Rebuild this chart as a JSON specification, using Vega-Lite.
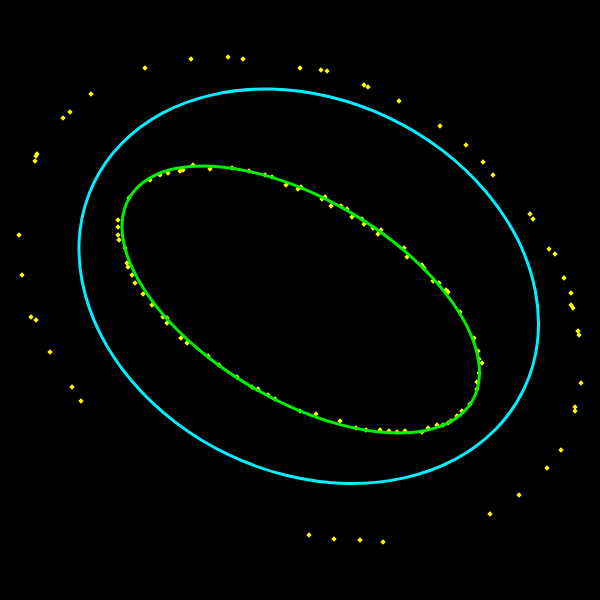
{
  "$schema": "https://vega.github.io/schema/vega-lite/v6.json",
  "width": 600,
  "height": 600,
  "autosize": "none",
  "padding": 0,
  "background": "#000000",
  "config": {"view": {"stroke": null}},
  "datasets": {
    "pts": [
      {"x":145,"y":68},{"x":191,"y":59},{"x":228,"y":57},{"x":243,"y":59},{"x":91,"y":94},{"x":70,"y":112},{"x":63,"y":118},{"x":37,"y":154},{"x":36,"y":156},{"x":35,"y":161},
      {"x":300,"y":68},{"x":321,"y":70},{"x":327,"y":71},{"x":364,"y":85},{"x":368,"y":87},{"x":399,"y":101},{"x":440,"y":126},{"x":466,"y":145},{"x":483,"y":162},{"x":493,"y":175},
      {"x":19,"y":235},{"x":22,"y":275},{"x":31,"y":317},{"x":36,"y":320},{"x":50,"y":352},{"x":72,"y":387},{"x":81,"y":401},
      {"x":530,"y":214},{"x":533,"y":219},{"x":549,"y":249},{"x":555,"y":254},{"x":564,"y":278},{"x":571,"y":293},{"x":571,"y":305},{"x":573,"y":308},{"x":578,"y":331},{"x":579,"y":335},{"x":581,"y":383},{"x":575,"y":407},{"x":575,"y":411},{"x":561,"y":450},{"x":547,"y":468},
      {"x":519,"y":495},{"x":490,"y":514},{"x":309,"y":535},{"x":334,"y":539},{"x":360,"y":540},{"x":383,"y":542},
      {"x":160,"y":175},{"x":168,"y":173},{"x":180,"y":171},{"x":183,"y":170},{"x":150,"y":180},{"x":210,"y":169},{"x":193,"y":165},{"x":129,"y":198},{"x":118,"y":220},{"x":118,"y":227},{"x":118,"y":235},{"x":119,"y":240},{"x":125,"y":248},{"x":127,"y":263},{"x":128,"y":267},{"x":132,"y":275},{"x":135,"y":283},{"x":143,"y":294},{"x":232,"y":168},
      {"x":249,"y":171},{"x":265,"y":175},{"x":272,"y":177},{"x":286,"y":185},{"x":298,"y":189},{"x":301,"y":187},{"x":322,"y":199},{"x":325,"y":197},{"x":331,"y":206},{"x":341,"y":206},{"x":347,"y":209},{"x":352,"y":217},{"x":362,"y":219},{"x":364,"y":224},{"x":373,"y":228},
      {"x":381,"y":230},{"x":378,"y":234},{"x":404,"y":248},{"x":407,"y":257},{"x":422,"y":265},{"x":424,"y":268},{"x":433,"y":281},{"x":439,"y":283},{"x":448,"y":292},{"x":446,"y":290},{"x":460,"y":312},{"x":474,"y":338},
      {"x":478,"y":351},{"x":479,"y":359},{"x":482,"y":363},{"x":479,"y":373},{"x":477,"y":382},{"x":477,"y":389},{"x":470,"y":404},{"x":462,"y":411},{"x":457,"y":416},{"x":451,"y":421},{"x":448,"y":423},{"x":443,"y":425},{"x":437,"y":425},{"x":428,"y":428},{"x":422,"y":432},{"x":405,"y":431},{"x":397,"y":432},{"x":389,"y":431},{"x":380,"y":430},
      {"x":152,"y":305},{"x":163,"y":317},{"x":167,"y":318},{"x":167,"y":323},{"x":181,"y":338},{"x":187,"y":343},{"x":208,"y":356},{"x":219,"y":365},{"x":237,"y":377},{"x":252,"y":387},{"x":258,"y":389},{"x":268,"y":395},{"x":275,"y":399},
      {"x":300,"y":411},{"x":316,"y":414},{"x":340,"y":421},{"x":356,"y":428},{"x":366,"y":430}
    ],
    "cyan": [
      {"i":0,"x":524.0,"y":388.9},{"i":1,"x":495.9,"y":429.0},{"i":2,"x":455.0,"y":459.4},{"i":3,"x":404.2,"y":477.9},{"i":4,"x":346.8,"y":483.5},{"i":5,"x":286.9,"y":475.5},{"i":6,"x":228.4,"y":454.7},{"i":7,"x":175.5,"y":422.4},{"i":8,"x":131.6,"y":380.8},{"i":9,"x":99.8,"y":332.8},{"i":10,"x":82.2,"y":281.6},{"i":11,"x":80.0,"y":230.7},{"i":12,"x":93.5,"y":183.6},{"i":13,"x":121.6,"y":143.5},{"i":14,"x":162.5,"y":113.1},{"i":15,"x":213.3,"y":94.6},{"i":16,"x":270.7,"y":89.0},{"i":17,"x":330.6,"y":97.0},{"i":18,"x":389.1,"y":117.8},{"i":19,"x":442.0,"y":150.1},{"i":20,"x":485.9,"y":191.7},{"i":21,"x":517.8,"y":239.7},{"i":22,"x":535.3,"y":290.9},{"i":23,"x":537.5,"y":341.8}
    ],
    "green": [
      {"i":0,"x":472.0,"y":401.5},{"i":1,"x":452.9,"y":420.3},{"i":2,"x":423.4,"y":430.9},{"i":3,"x":385.6,"y":432.5},{"i":4,"x":342.0,"y":425.1},{"i":5,"x":295.5,"y":409.1},{"i":6,"x":249.5,"y":385.6},{"i":7,"x":206.9,"y":356.3},{"i":8,"x":170.7,"y":323.1},{"i":9,"x":143.4,"y":288.3},{"i":10,"x":126.8,"y":254.3},{"i":11,"x":122.1,"y":223.3},{"i":12,"x":129.5,"y":197.5},{"i":13,"x":148.6,"y":178.7},{"i":14,"x":178.1,"y":168.1},{"i":15,"x":215.9,"y":166.5},{"i":16,"x":259.6,"y":173.9},{"i":17,"x":306.0,"y":189.9},{"i":18,"x":352.0,"y":213.4},{"i":19,"x":394.6,"y":242.7},{"i":20,"x":430.8,"y":275.9},{"i":21,"x":458.1,"y":310.7},{"i":22,"x":474.7,"y":344.7},{"i":23,"x":479.4,"y":375.7}
    ]
  },
  "encoding": {
    "x": {"field": "x", "type": "quantitative", "scale": {"domain": [0, 600], "nice": false, "zero": false}, "axis": null},
    "y": {"field": "y", "type": "quantitative", "scale": {"domain": [0, 600], "nice": false, "zero": false, "reverse": true}, "axis": null}
  },
  "layer": [
    {
      "data": {"name": "pts"},
      "mark": {"type": "point", "shape": "diamond", "filled": true, "size": 28, "color": "#ffff00", "opacity": 1, "strokeWidth": 0}
    },
    {
      "data": {"name": "cyan"},
      "mark": {"type": "line", "interpolate": "cardinal-closed", "color": "#00f0ff", "strokeWidth": 3},
      "encoding": {"order": {"field": "i", "type": "quantitative"}}
    },
    {
      "data": {"name": "green"},
      "mark": {"type": "line", "interpolate": "cardinal-closed", "color": "#00f000", "strokeWidth": 3},
      "encoding": {"order": {"field": "i", "type": "quantitative"}}
    }
  ]
}
